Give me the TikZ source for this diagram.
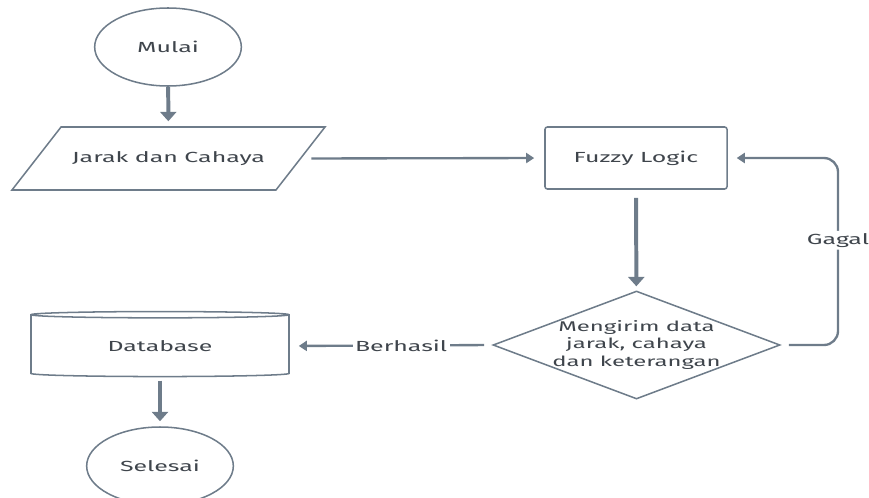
\documentclass[tikz,border=0pt]{standalone}
\usepackage{fontspec}
\setmainfont{Fira Sans}[FakeStretch=1.7]
\usetikzlibrary{shapes.geometric,arrows.meta}
\definecolor{garis}{HTML}{6E7C8A}
\definecolor{teks}{HTML}{3F454C}
\begin{document}
\begin{tikzpicture}[x=0.03cm,y=-0.03cm,
	font=\fontsize{12.5}{15}\selectfont,text=teks,
	bentuk/.style={draw=garis,line width=1.3pt,inner sep=0pt},
	terminal/.style={bentuk,ellipse,minimum width=4.4cm,minimum height=2.34cm},
	masukan/.style={bentuk,trapezium,trapezium left angle=52,trapezium right angle=128,trapezium stretches body,inner ysep=0.73cm,minimum width=9.39cm,minimum height=1.89cm},
	proses/.style={bentuk,rectangle,rounded corners=2pt,minimum width=5.46cm,minimum height=1.86cm},
	keputusan/.style={bentuk,diamond,minimum width=8.61cm,minimum height=3.24cm},
	basisdata/.style={bentuk,cylinder,shape border rotate=90,aspect=0.06,minimum width=7.74cm,minimum height=1.95cm},
	tebal/.style={draw=garis,line width=3.4pt,-{Triangle[width=0.48cm,length=0.28cm]}},
	alur/.style={draw=garis,line width=2pt,-{Triangle[width=0.3cm,length=0.24cm]}},
	ket/.style={fill=white,inner sep=2pt}]
	\useasboundingbox (0,0) rectangle (869,497);
	\node[terminal](Mulai)		at (168,47)		{Mulai};
	\node[masukan](Input)		at (168.5,158.5)	{Jarak dan Cahaya};
	\node[proses](Fuzzy)		at (636,158)		{Fuzzy Logic};
	\node[keputusan,label={[align=center,text=teks,font=\fontsize{12}{15}\selectfont]center:Mengirim data\\jarak, cahaya\\dan keterangan}](Kirim) at (636.5,345) {};
	\node[basisdata](Database)	at (160,346)		{Database};
	\node[terminal](Selesai)	at (160,466)		{Selesai};
	\draw[tebal,shorten >=0.15cm](Mulai) -- (Input);
	\draw[alur,shorten <=0.3cm,shorten >=0.3cm](Input.east) -- (Fuzzy.west);
	\draw[tebal,shorten <=0.24cm,shorten >=0.12cm](Fuzzy) -- (Kirim);
	\draw[alur,rounded corners=12pt,shorten <=0.24cm,shorten >=0.27cm](Kirim.east) -| node[ket,pos=0.78]{Gagal} (838,158) -- (Fuzzy.east);
	\draw[alur,shorten <=0.24cm,shorten >=0.27cm](Kirim.west) -- node[ket,pos=0.45]{Berhasil} (Database.east);
	\draw[tebal,shorten <=0.1cm,shorten >=0.15cm](Database) -- (Selesai);
\end{tikzpicture}
\end{document}
